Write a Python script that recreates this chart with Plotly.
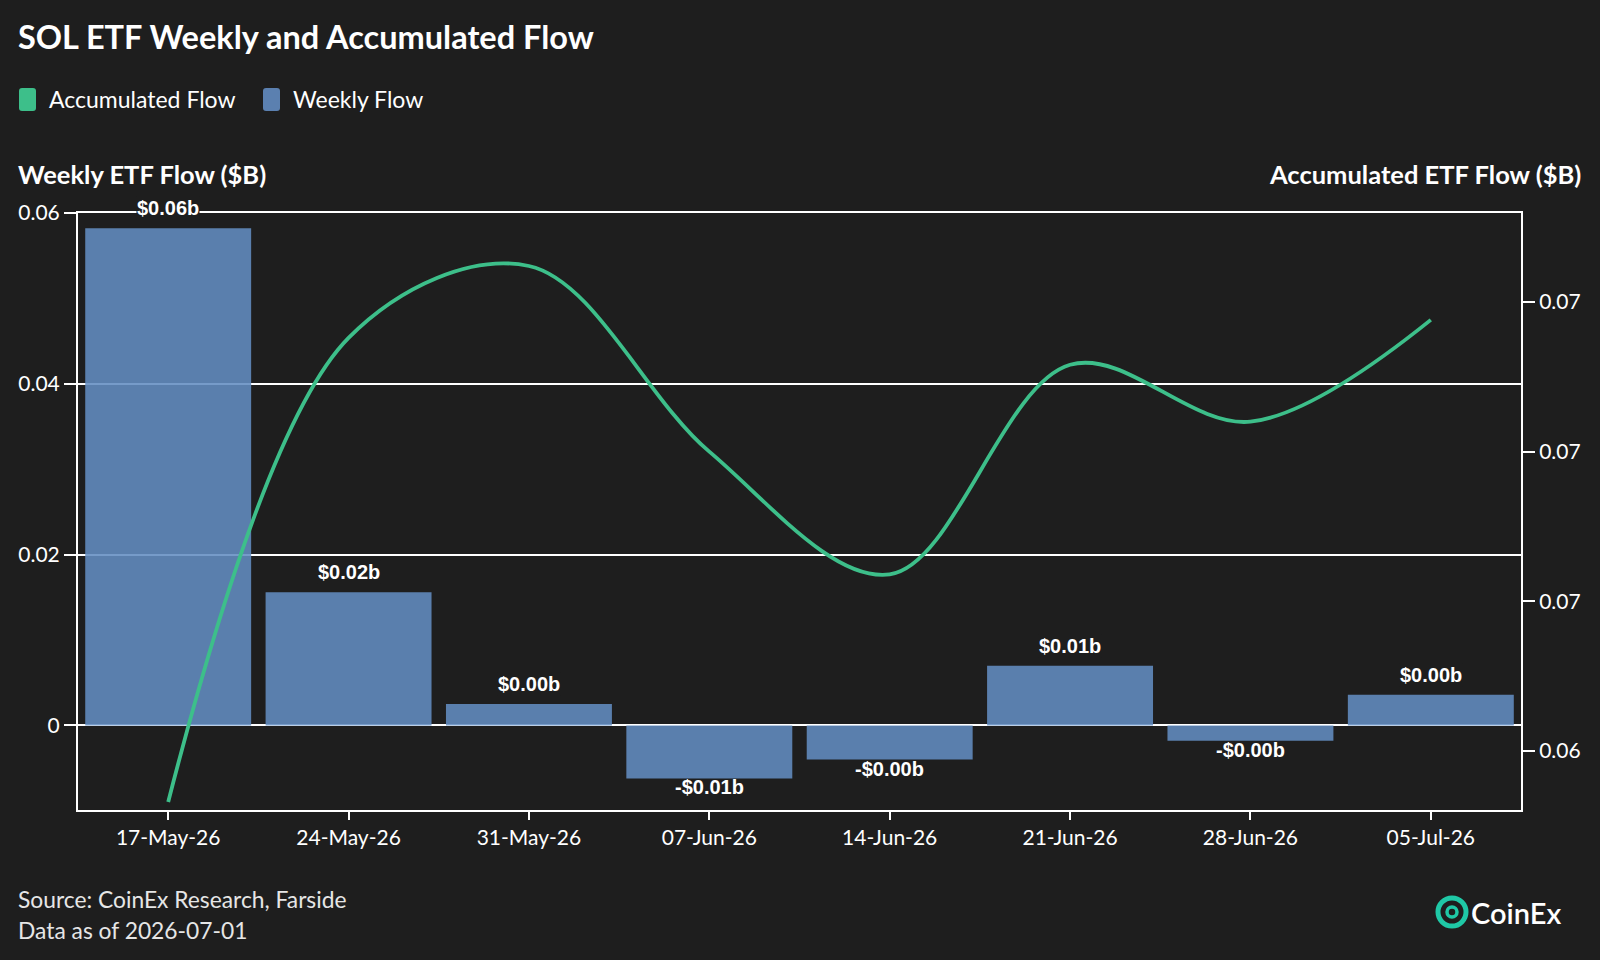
import plotly.graph_objects as go

# ---------------- data ----------------
weeks = ["17-May-26", "24-May-26", "31-May-26", "07-Jun-26",
         "14-Jun-26", "21-Jun-26", "28-Jun-26", "05-Jul-26"]
weekly_flow = [0.0582, 0.0156, 0.0025, -0.0062, -0.0040, 0.0070, -0.0018, 0.0036]
accumulated_flow = [0.0583, 0.0738, 0.0762, 0.0700, 0.0659, 0.0729, 0.0710, 0.0744]

left_tick_vals = [0, 0.02, 0.04, 0.06]
left_tick_text = ["0", "0.02", "0.04", "0.06"]
right_tick_vals = [0.060, 0.065, 0.070, 0.075]
right_tick_text = ["0.06", "0.07", "0.07", "0.07"]

legend_names = ["Accumulated Flow", "Weekly Flow"]

# ---------------- style ----------------
BG = "#1e1e1e"
GREEN = "#3dbf8a"
BLUE = "rgba(99,141,194,0.88)"
BLUE_SOLID = "#5b80b0"
WHITE = "#ffffff"
FONT = "Lato"

W_, H_ = 1600, 960
L, R, T, B = 78, 1521, 213, 810
PW, PH = R - L, B - T


def px_x(px):
    return (px - L) / PW


def px_y(py):
    return (B - py) / PH


def fmt(v):
    return ("-$%.2fb" % abs(v)) if v < 0 else ("$%.2fb" % v)


def rounded_rect(x0, y0, x1, y1, r):
    X = px_x
    Y = px_y
    return (f"M {X(x0 + r)} {Y(y0)} L {X(x1 - r)} {Y(y0)} "
            f"Q {X(x1)} {Y(y0)} {X(x1)} {Y(y0 + r)} L {X(x1)} {Y(y1 - r)} "
            f"Q {X(x1)} {Y(y1)} {X(x1 - r)} {Y(y1)} L {X(x0 + r)} {Y(y1)} "
            f"Q {X(x0)} {Y(y1)} {X(x0)} {Y(y1 - r)} L {X(x0)} {Y(y0 + r)} "
            f"Q {X(x0)} {Y(y0)} {X(x0 + r)} {Y(y0)} Z")


fig = go.Figure()

fig.add_trace(go.Bar(
    x=weeks, y=weekly_flow, name="Weekly Flow",
    marker=dict(color=BLUE, line=dict(width=0)),
    showlegend=False, yaxis="y",
))

fig.add_trace(go.Scatter(
    x=weeks, y=accumulated_flow, name="Accumulated Flow",
    mode="lines", line=dict(color=GREEN, width=3.8, shape="spline", smoothing=1.0),
    showlegend=False, yaxis="y2",
))

annotations = []
for wk, v in zip(weeks, weekly_flow):
    annotations.append(dict(
        x=wk, y=v, xref="x", yref="y", text="<b>" + fmt(v) + "</b>",
        showarrow=False, yanchor="bottom" if v >= 0 else "top",
        yshift=8 if v >= 0 else 3,
        font=dict(family="Liberation Sans, Arial", size=20, color=WHITE),
        bgcolor=BG if v >= 0 else "rgba(0,0,0,0)", borderpad=0,
    ))

# manual legend
legend_colors = [GREEN, BLUE_SOLID]
legend_swatch_x = [19, 263]
shapes = []
for name, col, sx in zip(legend_names, legend_colors, legend_swatch_x):
    shapes.append(dict(type="path", xref="paper", yref="paper",
                       path=rounded_rect(sx, 88, sx + 17, 111, 3),
                       fillcolor=col, line=dict(width=0)))
    annotations.append(dict(
        x=px_x(sx + 28), y=px_y(99), xref="paper", yref="paper",
        xanchor="left", yanchor="middle", text=name, showarrow=False,
        font=dict(family=FONT, size=23, color=WHITE),
    ))

# axis titles
annotations.append(dict(
    x=px_x(16), y=px_y(174), xref="paper", yref="paper", xanchor="left", yanchor="middle",
    text="<b>Weekly ETF Flow ($B)</b>", showarrow=False,
    font=dict(family=FONT, size=25.5, color=WHITE),
))
annotations.append(dict(
    x=px_x(1583), y=px_y(174), xref="paper", yref="paper", xanchor="right", yanchor="middle",
    text="<b>Accumulated ETF Flow ($B)</b>", showarrow=False,
    font=dict(family=FONT, size=25.5, color=WHITE),
))
# source text
annotations.append(dict(
    x=px_x(16), y=px_y(899), xref="paper", yref="paper", xanchor="left", yanchor="middle",
    text="Source: CoinEx Research, Farside", showarrow=False,
    font=dict(family=FONT, size=22.8, color="#e6e6e6"),
))
annotations.append(dict(
    x=px_x(16), y=px_y(930), xref="paper", yref="paper", xanchor="left", yanchor="middle",
    text="Data as of 2026-07-01", showarrow=False,
    font=dict(family=FONT, size=22.8, color="#e6e6e6"),
))
# logo text
annotations.append(dict(
    x=px_x(1469), y=px_y(912), xref="paper", yref="paper", xanchor="left", yanchor="middle",
    text="CoinEx", showarrow=False,
    font=dict(family=FONT, size=29, color=WHITE, weight=600),
))

shapes += [
    dict(type="circle", xref="paper", yref="paper",
         x0=px_x(1438), x1=px_x(1466), y0=px_y(926), y1=px_y(898),
         line=dict(color="#1fc8a6", width=5)),
    dict(type="circle", xref="paper", yref="paper",
         x0=px_x(1447), x1=px_x(1457), y0=px_y(917), y1=px_y(907),
         line=dict(color="#1fc8a6", width=3.5)),
]

fig.update_layout(
    width=W_, height=H_,
    paper_bgcolor=BG, plot_bgcolor=BG,
    margin=dict(l=L, r=W_ - R, t=T, b=H_ - B, pad=0),
    font=dict(family=FONT, color=WHITE, size=21),
    barmode="overlay", bargap=0.08,
    showlegend=False,
    title=dict(
        text="<b>SOL ETF Weekly and Accumulated Flow</b>",
        xref="container", yref="container", x=18 / W_, y=1 - 38 / H_,
        xanchor="left", yanchor="middle",
        font=dict(family=FONT, size=32.5, color=WHITE),
    ),
    xaxis=dict(
        type="category", categoryorder="array", categoryarray=weeks,
        range=[-0.5, len(weeks) - 0.5],
        showline=True, linecolor=WHITE, linewidth=2, mirror=True,
        ticks="outside", ticklen=8, tickwidth=2, tickcolor=WHITE,
        showgrid=False, tickfont=dict(family=FONT, size=21, color=WHITE),
    ),
    yaxis=dict(
        range=[-0.0099, 0.06], tickvals=left_tick_vals, ticktext=left_tick_text,
        showline=True, linecolor=WHITE, linewidth=2,
        ticks="outside", ticklen=12, tickwidth=2, tickcolor=WHITE,
        showgrid=True, gridcolor=WHITE, gridwidth=2,
        zeroline=True, zerolinecolor=WHITE, zerolinewidth=2,
        tickfont=dict(family=FONT, size=21, color=WHITE),
    ),
    yaxis2=dict(
        overlaying="y", side="right",
        range=[0.05803, 0.07797], tickvals=right_tick_vals, ticktext=right_tick_text,
        showline=True, linecolor=WHITE, linewidth=2,
        ticks="outside", ticklen=12, tickwidth=2, tickcolor=WHITE,
        showgrid=False, zeroline=False,
        tickfont=dict(family=FONT, size=21, color=WHITE),
    ),
    annotations=annotations,
    shapes=shapes,
)

fig.write_html("out.html")
